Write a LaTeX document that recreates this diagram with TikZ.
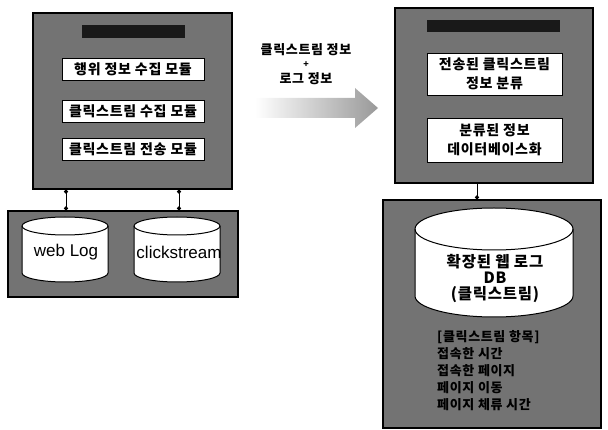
\documentclass[tikz,border=0pt]{standalone}
\usepackage{fontspec}
\setmainfont{Noto Sans CJK KR}[LetterSpace=5]
\newfontfamily\latinfont{Liberation Sans}
\usetikzlibrary{arrows.meta,positioning}

% cylinder: centre x, top y, x radius, y radius, height
\newcommand{\dbshape}[5]{%
  \filldraw[fill=white, draw=black, line width=1pt] ({#1-#3},{#2+#4}) -- ({#1-#3},{#2+#5-#4})
    arc[start angle=180, end angle=0, x radius=#3, y radius=#4] -- ({#1+#3},{#2+#4})
    arc[start angle=0, end angle=-180, x radius=#3, y radius=#4] -- cycle;
  \draw[line width=1pt] ({#1-#3},{#2+#4}) arc[start angle=180, end angle=0, x radius=#3, y radius=#4];
}

\tikzset{
  panel/.style={draw=black, line width=1.3pt, fill=black!55},
  titlebar/.style={fill=black!90, inner sep=0pt},
  module/.style={draw=black, fill=white, align=center, inner sep=1pt,
    font=\bfseries\fontsize{14}{19}\selectfont},
  dbtext/.style={align=center, inner sep=0pt},
  link/.style={line width=1pt, {Circle[length=4pt]}-{Circle[length=4pt]}},
}

\begin{document}
\begin{tikzpicture}[x=1pt,y=-1pt]
\useasboundingbox (0,0) rectangle (608,430);
% client side
\node[panel, minimum width=199pt, minimum height=176pt] (client) at (132.5,101) {};
\node[titlebar, minimum width=103pt, minimum height=13pt] (clienttitle) at (133.5,32) {};
\node[module, minimum width=142pt, minimum height=22pt] (collect) at (133,69) {행위 정보 수집 모듈};
\node[module, minimum width=142pt, minimum height=22pt] (clickcollect) at (133,111) {클릭스트림 수집 모듈};
\node[module, minimum width=142pt, minimum height=22pt] (send) at (133,149) {클릭스트림 전송 모듈};
\node[panel, minimum width=230pt, minimum height=86pt] (store) at (123,254) {};
\dbshape{65}{217}{43}{9}{65}
\dbshape{177}{217}{43}{9}{65}
\node[dbtext, font=\latinfont\fontsize{17}{20}\selectfont] (weblog) at (66,252) {web Log};
\node[dbtext, font=\latinfont\fontsize{17}{20}\selectfont] (clicklog) at (179,252) {clickstream};
\draw[link] (client.south -| weblog) -- (store.north -| weblog);
\draw[link] (client.south -| clicklog) -- (store.north -| clicklog);
% transfer
\node[align=center, font=\bfseries\fontsize{13}{16}\selectfont] (payload) at (306,64) {클릭스트림 정보\\[-3pt]{\fontsize{9}{9}\selectfont +}\\로그 정보};
\shade[left color=white, right color=black!40] (255,98) -- (355,98) -- (355,88) -- (378,108) -- (355,128) -- (355,118) -- (255,118) -- cycle;
% server side
\node[panel, minimum width=198pt, minimum height=175pt] (server) at (494,95.5) {};
\node[titlebar, minimum width=133pt, minimum height=12pt] (servertitle) at (493.5,26) {};
\node[module, minimum width=135pt, minimum height=42pt] (classify) at (494.5,74) {전송된 클릭스트림\\정보 분류};
\node[module, minimum width=135pt, minimum height=44pt] (todb) at (494.5,140) {분류된 정보\\데이터베이스화};
\node[panel, minimum width=218pt, minimum height=228pt] (result) at (492,314) {};
\dbshape{494}{208}{79}{21}{109}
\node[dbtext, font=\bfseries\fontsize{15.5}{16}\selectfont] (extdb) at (495,278) {확장된 웹 로그\\DB\\(클릭스트림)};
\node[anchor=north west, align=left, inner sep=0pt, font=\bfseries\fontsize{13}{17}\selectfont, text=black] (fields) at (437,330) {[클릭스트림 항목]\\ 접속한 시간\\ 접속한 페이지\\ 페이지 이동\\ 페이지 체류 시간};
\draw[line width=1pt, -{Circle[length=4pt]}] ([xshift=-17pt]server.south) -- ([xshift=-15pt]result.north);
\end{tikzpicture}
\end{document}
